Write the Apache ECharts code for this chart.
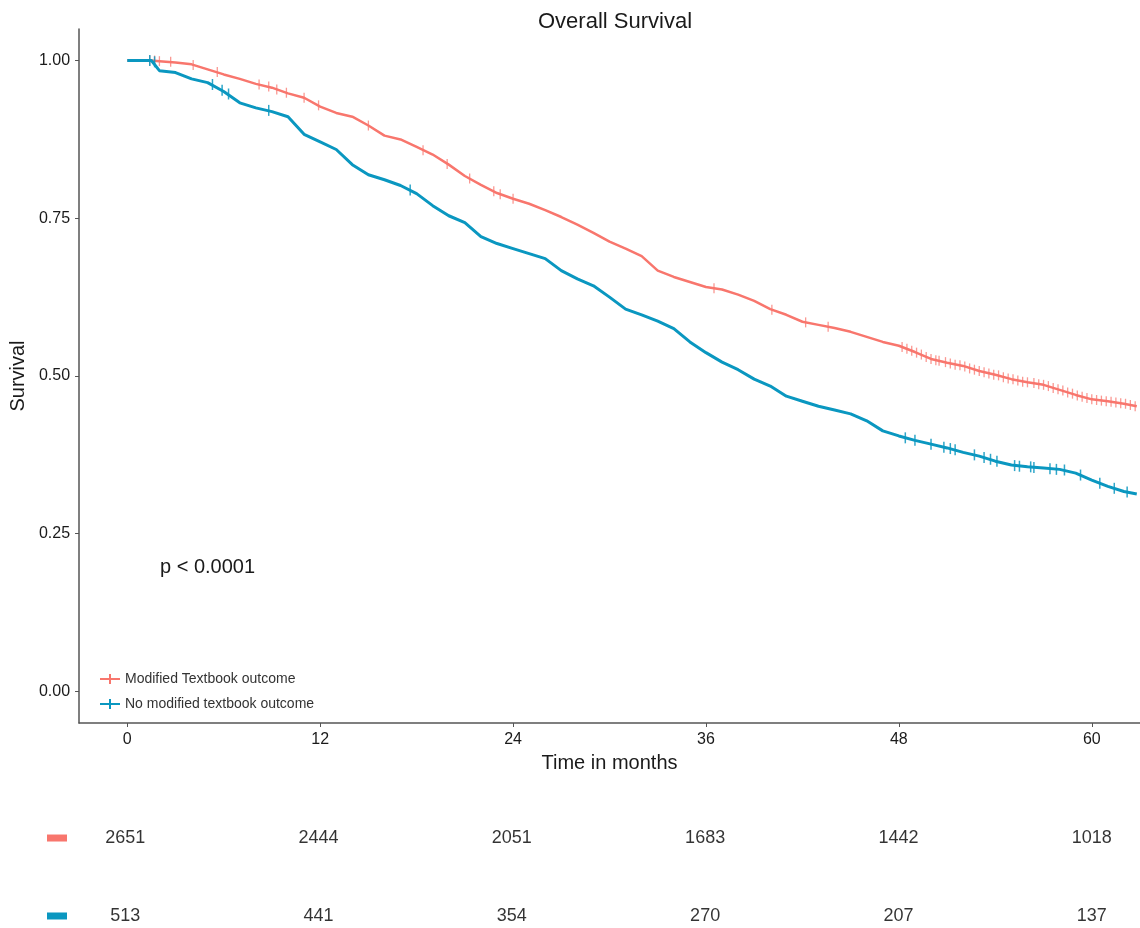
<!DOCTYPE html>
<html>
<head>
<meta charset="utf-8">
<script src="https://cdn.jsdelivr.net/npm/echarts@6/dist/echarts.min.js"></script>
<style>
html,body{margin:0;padding:0;background:#fff;}
#chart{width:1140px;height:928px;}
</style>
</head>
<body>
<div id="chart"></div>
<script>
const seriesNames = ['Modified Textbook outcome', 'No modified textbook outcome'];
const times = [0,1,1.5,2,3,4,5,6,7,8,9,10,11,12,13,14,15,16,17,18,19,20,21,22,23,24,25,26,27,28,29,30,31,32,33,34,35,36,37,38,39,40,41,42,43,44,45,46,47,48,49,50,51,52,53,54,55,56,57,58,59,60,61,62,62.8];
const mtoSurv = [1.000,1.000,1.000,0.999,0.997,0.994,0.986,0.978,0.971,0.963,0.957,0.948,0.941,0.927,0.917,0.911,0.897,0.881,0.875,0.863,0.851,0.835,0.817,0.803,0.790,0.781,0.773,0.763,0.752,0.740,0.727,0.713,0.702,0.690,0.667,0.657,0.649,0.641,0.637,0.629,0.619,0.606,0.597,0.586,0.581,0.576,0.570,0.562,0.554,0.548,0.538,0.527,0.521,0.516,0.508,0.502,0.495,0.490,0.486,0.478,0.470,0.463,0.460,0.456,0.452];
const noMtoSurv = [1.000,1.000,1.000,0.984,0.981,0.971,0.965,0.951,0.933,0.925,0.919,0.911,0.883,0.871,0.859,0.835,0.819,0.811,0.802,0.789,0.770,0.754,0.743,0.721,0.710,0.702,0.694,0.686,0.667,0.654,0.643,0.625,0.606,0.597,0.587,0.575,0.554,0.537,0.522,0.510,0.495,0.484,0.468,0.460,0.452,0.446,0.440,0.429,0.413,0.405,0.398,0.392,0.386,0.379,0.373,0.365,0.359,0.356,0.354,0.352,0.346,0.335,0.325,0.317,0.313];

// censoring marks [time, survival]
const mtoCensor = [[1.4,1.000],[1.7,1.000],[2.0,0.999],[2.7,0.998],[4.1,0.993],[5.6,0.982],[8.2,0.962],[8.8,0.959],[9.3,0.954],[9.9,0.949],[11.0,0.941],[11.9,0.929],[15.0,0.897],[18.4,0.858],[19.9,0.836],[21.3,0.813],[22.8,0.793],[23.2,0.788],[24.0,0.781],[36.5,0.639],[40.1,0.605],[42.2,0.585],[43.6,0.578],
[48.2,0.546],[48.5,0.543],[48.8,0.540],[49.1,0.537],[49.4,0.534],[49.7,0.530],[50.0,0.527],[50.3,0.525],[50.5,0.524],[50.9,0.522],[51.2,0.520],[51.5,0.518],[51.8,0.517],[52.1,0.515],[52.4,0.512],[52.7,0.510],[53.0,0.508],[53.3,0.506],[53.6,0.504],[53.9,0.502],[54.2,0.501],[54.5,0.498],[54.8,0.496],[55.1,0.495],[55.4,0.493],[55.7,0.491],[56.0,0.490],[56.4,0.489],[56.7,0.487],[57.0,0.486],[57.3,0.484],[57.6,0.481],[57.9,0.479],[58.2,0.477],[58.5,0.474],[58.8,0.472],[59.1,0.469],[59.4,0.467],[59.7,0.465],[60.0,0.463],[60.3,0.462],[60.6,0.461],[60.9,0.460],[61.2,0.459],[61.5,0.458],[61.8,0.457],[62.1,0.456],[62.4,0.454],[62.7,0.452]];
const noMtoCensor = [[1.4,1.000],[1.7,0.998],[5.3,0.962],[5.9,0.953],[6.3,0.947],[8.8,0.921],[17.6,0.795],[48.4,0.402],[49.0,0.398],[50.0,0.392],[50.8,0.387],[51.2,0.385],[51.5,0.383],[52.7,0.375],[53.3,0.371],[53.7,0.368],[54.1,0.365],[55.2,0.358],[55.5,0.357],[56.2,0.356],[56.4,0.355],[57.4,0.353],[57.8,0.352],[58.3,0.351],[59.3,0.343],[60.5,0.330],[61.4,0.322],[62.2,0.316]];

const xTicks = [0,12,24,36,48,60];
const yTicks = [0,0.25,0.5,0.75,1];
const riskTimes = [0,12,24,36,48,60];
const riskMto = [2651,2444,2051,1683,1442,1018];
const riskNoMto = [513,441,354,270,207,137];
const pValueText = 'p < 0.0001';

const RED = '#F8766D';
const BLUE = '#0A97C0';
const FONT = 'Liberation Sans, Arial, sans-serif';
const plusIcon = 'path://M0,4 L9,4 L9,0 L11,0 L11,4 L20,4 L20,6 L11,6 L11,10 L9,10 L9,6 L0,6 Z';

const chart = echarts.init(document.getElementById('chart'), null, {renderer:'canvas'});

const riskData = [];
riskTimes.forEach((t,i)=>{ riskData.push([t,0,riskMto[i]]); riskData.push([t,1,riskNoMto[i]]); });

const option = {
  backgroundColor:'#fff',
  animation:false,
  textStyle:{fontFamily:FONT},
  title:{text:'Overall Survival', left:610, top:6, textAlign:'center',
    textStyle:{fontSize:22, fontWeight:'normal', color:'#1a1a1a', fontFamily:FONT}},
  grid:[
    {left:77, top:29, width:1067, height:694, containLabel:false},
    {left:77, top:780, width:1067, height:148, containLabel:false}
  ],
  legend:{
    orient:'vertical', left:95, top:667, itemWidth:20, itemHeight:10, itemGap:11,
    data:[{name:seriesNames[0], icon:plusIcon},{name:seriesNames[1], icon:plusIcon}],
    textStyle:{fontSize:14, color:'#333', fontFamily:FONT, padding:[0,0,0,0]},
    selectedMode:false
  },
  xAxis:[
    {type:'value', gridIndex:0, min:-3, max:63, 
      name:'Time in months', nameLocation:'middle', nameGap:30,
      nameTextStyle:{fontSize:20, color:'#1a1a1a', fontFamily:FONT},
      axisLine:{show:true, onZero:false, lineStyle:{color:'#555', width:1.5}},
      axisTick:{show:true, length:4, lineStyle:{color:'#555', width:1}, customValues:xTicks},
      axisLabel:{show:true, fontSize:16, color:'#1a1a1a', margin:9, customValues:xTicks, fontFamily:FONT},
      splitLine:{show:false}},
    {type:'value', gridIndex:1, min:-3, max:63, show:false, splitLine:{show:false}}
  ],
  yAxis:[
    {type:'value', gridIndex:0, min:-0.05, max:1.05,
      name:'Survival', nameLocation:'middle', nameGap:46, nameRotate:90,
      nameTextStyle:{fontSize:20, color:'#1a1a1a', fontFamily:FONT},
      axisLine:{show:true, onZero:false, lineStyle:{color:'#555', width:1.5}},
      axisTick:{show:true, length:4, lineStyle:{color:'#555', width:1}, customValues:yTicks},
      axisLabel:{show:true, fontSize:16, color:'#1a1a1a', margin:9, customValues:yTicks,
        formatter:v=>v.toFixed(2), fontFamily:FONT},
      splitLine:{show:false}},
    {type:'value', gridIndex:1, inverse:true, min:-0.744, max:1.154,
      axisLine:{show:false}, axisTick:{show:false}, splitLine:{show:false},
      axisLabel:{show:true, margin:10, customValues:[0,1],
        formatter:v=> v===0 ? '{a|}' : '{b|}',
        rich:{a:{width:20, height:7, backgroundColor:RED}, b:{width:20, height:7, backgroundColor:BLUE}}}}
  ],
  series:[
    {name:seriesNames[0], type:'line', xAxisIndex:0, yAxisIndex:0, showSymbol:false,
      data:times.map((t,i)=>[t,mtoSurv[i]]), lineStyle:{color:RED, width:2.5}, itemStyle:{color:RED}, z:2},
    {name:seriesNames[1], type:'line', xAxisIndex:0, yAxisIndex:0, showSymbol:false,
      data:times.map((t,i)=>[t,noMtoSurv[i]]), lineStyle:{color:BLUE, width:3}, itemStyle:{color:BLUE}, z:3},
    {name:'censorMto', type:'scatter', xAxisIndex:0, yAxisIndex:0, symbol:'rect', symbolSize:[1.3,10],
      data:mtoCensor, itemStyle:{color:RED, opacity:0.75}, z:2, silent:true},
    {name:'censorNoMto', type:'scatter', xAxisIndex:0, yAxisIndex:0, symbol:'rect', symbolSize:[1.5,11],
      data:noMtoCensor, itemStyle:{color:BLUE, opacity:0.85}, z:3, silent:true},
    {name:'risk', type:'scatter', xAxisIndex:1, yAxisIndex:1, symbolSize:1,
      data:riskData, itemStyle:{color:'rgba(0,0,0,0)'}, silent:true,
      label:{show:true, position:'inside', formatter:p=>String(p.value[2]), fontSize:18, color:'#000', fontFamily:FONT}}
  ],
  graphic:[
    {type:'text', left:160, top:557, style:{text:pValueText, fontSize:20, fill:'#1a1a1a', fontFamily:FONT}}
  ]
};
chart.setOption(option);
</script>
</body>
</html>
